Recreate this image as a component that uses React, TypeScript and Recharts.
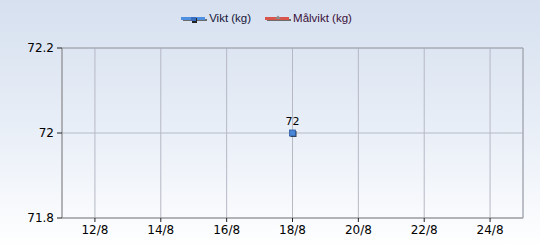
import React from "react";
import {
  ComposedChart,
  Line,
  XAxis,
  YAxis,
  CartesianGrid,
  Legend,
  LabelList,
  ReferenceLine,
} from "recharts";

// day of August
const days = [18];
const vikt = [72];
const malvikt: number[] = [];

const xTicks = [12, 14, 16, 18, 20, 22, 24];
const yTicks = [71.8, 72, 72.2];
const seriesOrder = ["vikt", "malvikt"];

const viktData = days.map((d, i) => ({ day: d, vikt: vikt[i] }));
const malData = malvikt.map((v, i) => ({ day: days[i], malvikt: v }));

const FONT = "'DejaVu Sans', Verdana, sans-serif";

// eslint-disable-next-line @typescript-eslint/no-explicit-any
function SquareDot({ cx, cy }: any) {
  if (cx == null || cy == null) return null;
  return (
    <g>
      <rect x={cx - 2} y={cy - 2} width={6} height={6} fill="#1a1a1a" opacity={0.85} />
      <rect x={cx - 3} y={cy - 3} width={6} height={6} fill="#4a86d8" stroke="#2c5aa0" strokeWidth={0.8} />
    </g>
  );
}

// eslint-disable-next-line @typescript-eslint/no-explicit-any
function LegendContent({ payload }: any) {
  const items = [...(payload || [])].sort(
    (a: any, b: any) => seriesOrder.indexOf(a.dataKey) - seriesOrder.indexOf(b.dataKey)
  );
  return (
    <div style={{ display: "flex", justifyContent: "center", alignItems: "center", height: 20, paddingLeft: 10 }}>
      {items.map((it: any, i: number) => {
        const isRed = it.dataKey === "malvikt";
        return (
          <div key={it.value} style={{ display: "flex", alignItems: "center", marginLeft: i ? 14 : 0 }}>
            <svg width={26} height={12} style={{ marginRight: 2 }}>
              <rect x={2} y={7} width={24} height={2} fill="#6b6b6b" />
              <rect x={0} y={5} width={24} height={3} fill={it.color} />
              {isRed ? (
                <path d="M10 7 L13 3.5 L16 7 Z" fill="#8a8a8a" />
              ) : (
                <g>
                  <rect x={11} y={6} width={5} height={5} fill="#222" />
                  <rect x={10} y={5} width={5} height={4} fill="#3a6cc0" />
                </g>
              )}
            </svg>
            <span style={{ fontFamily: "'Liberation Sans', Arial, sans-serif", fontSize: 11.5, color: isRed ? "#3a0f3a" : "#16163a" }}>
              {it.value}
            </span>
          </div>
        );
      })}
    </div>
  );
}

export default function App() {
  return (
    <div
      style={{
        position: "absolute",
        left: 0,
        top: 0,
        width: 540,
        height: 250,
        background: "linear-gradient(to bottom, #d6e0ef 0%, #e8eef7 50%, #ffffff 100%)",
      }}
    >
      <ComposedChart width={540} height={250} margin={{ top: 11, right: 17, bottom: 0, left: 0 }}>
        <CartesianGrid stroke="#b6b9c4" strokeWidth={1} />
        <XAxis
          type="number"
          dataKey="day"
          domain={[11, 25]}
          ticks={xTicks}
          allowDuplicatedCategory={false}
          tickFormatter={(d: number) => `${d}/8`}
          height={32}
          tickSize={4}
          tickMargin={3}
          axisLine={{ stroke: "#8c8c8c" }}
          tickLine={{ stroke: "#222" }}
          tick={{ fill: "#000", fontSize: 12, fontFamily: FONT }}
        />
        <YAxis
          type="number"
          domain={[71.8, 72.2]}
          ticks={yTicks}
          width={62}
          tickSize={5}
          tickMargin={3}
          tickFormatter={(v: number) => String(Number(v.toFixed(1)))}
          axisLine={{ stroke: "#8c8c8c" }}
          tickLine={{ stroke: "#222" }}
          tick={{ fill: "#000", fontSize: 12, fontFamily: FONT }}
        />
        <ReferenceLine x={25} stroke="#a0a4ae" />
        <ReferenceLine y={72.2} stroke="#a0a4ae" />
        <Legend
          verticalAlign="top"
          height={37}
          wrapperStyle={{ top: 8 }}
          content={<LegendContent />}
        />
        <Line
          data={viktData}
          dataKey="vikt"
          name="Vikt (kg)"
          stroke="#4f8fe0"
          strokeWidth={2}
          dot={<SquareDot />}
          isAnimationActive={false}
        >
          <LabelList dataKey="vikt" position="top" offset={8} fill="#000" fontSize={11} fontFamily={FONT} />
        </Line>
        <Line
          data={malData}
          dataKey="malvikt"
          name="Målvikt (kg)"
          stroke="#d9544a"
          strokeWidth={2}
          dot={false}
          isAnimationActive={false}
        />
      </ComposedChart>
    </div>
  );
}
